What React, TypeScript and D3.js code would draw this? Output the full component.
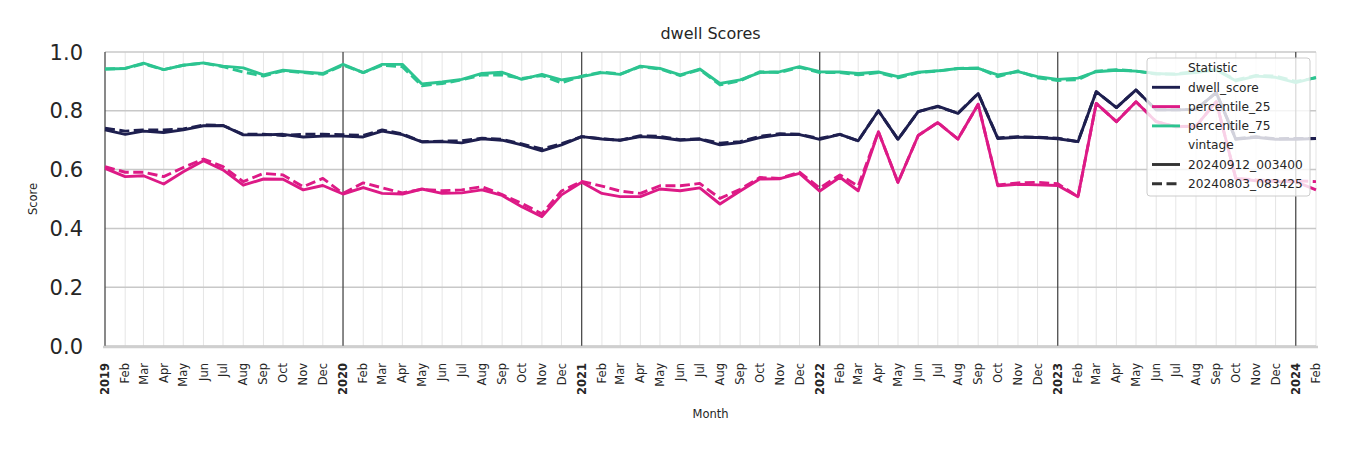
import React from 'react'
import * as d3 from 'd3'

// monthly points, Jan 2019 .. Feb 2024
const START = new Date(2019, 0, 1)
const END = new Date(2024, 1, 1)

const dwellNew = [
  0.735, 0.72, 0.731, 0.726, 0.735, 0.749, 0.75, 0.718, 0.718, 0.72, 0.711, 0.714,
  0.714, 0.711, 0.731, 0.719, 0.694, 0.695, 0.691, 0.705, 0.7, 0.684, 0.664, 0.684,
  0.712, 0.704, 0.7, 0.712, 0.709, 0.7, 0.704, 0.684, 0.692, 0.709, 0.719, 0.719,
  0.703, 0.72, 0.698, 0.8, 0.703, 0.797, 0.816, 0.791, 0.859, 0.706, 0.71, 0.709,
  0.705, 0.695, 0.865, 0.811, 0.871, 0.803, 0.803, 0.805, 0.862, 0.703, 0.71, 0.703,
  0.703, 0.706
]
const dwellOld = [
  0.741, 0.731, 0.735, 0.735, 0.738, 0.752, 0.75, 0.72, 0.72, 0.716, 0.72, 0.72,
  0.719, 0.716, 0.735, 0.721, 0.695, 0.697, 0.698, 0.707, 0.703, 0.687, 0.67, 0.688,
  0.712, 0.705, 0.7, 0.715, 0.713, 0.702, 0.704, 0.69, 0.695, 0.713, 0.722, 0.72,
  0.706, 0.72, 0.698, 0.8, 0.703, 0.797, 0.814, 0.792, 0.859, 0.708, 0.712, 0.71,
  0.707, 0.695, 0.865, 0.811, 0.871, 0.803, 0.803, 0.805, 0.862, 0.705, 0.712, 0.705,
  0.706, 0.706
]
const p25New = [
  0.604, 0.576, 0.579, 0.551, 0.593, 0.63, 0.599, 0.547, 0.568, 0.567, 0.531, 0.546,
  0.517, 0.539, 0.519, 0.517, 0.534, 0.519, 0.521, 0.531, 0.512, 0.474, 0.44, 0.514,
  0.557, 0.519, 0.508, 0.508, 0.534, 0.528, 0.538, 0.483, 0.527, 0.568, 0.569, 0.587,
  0.527, 0.574, 0.528, 0.729, 0.556, 0.716, 0.76, 0.704, 0.822, 0.545, 0.55, 0.548,
  0.546, 0.508, 0.825, 0.763, 0.831, 0.763, 0.746, 0.748, 0.831, 0.57, 0.562, 0.559,
  0.559, 0.531
]
const p25Old = [
  0.61, 0.591, 0.591, 0.576, 0.607, 0.636, 0.61, 0.559, 0.587, 0.582, 0.542, 0.57,
  0.519, 0.555, 0.538, 0.521, 0.533, 0.528, 0.531, 0.542, 0.515, 0.485, 0.45, 0.527,
  0.56, 0.544, 0.527, 0.519, 0.545, 0.545, 0.553, 0.502, 0.533, 0.573, 0.57, 0.591,
  0.537, 0.582, 0.544, 0.729, 0.556, 0.716, 0.76, 0.704, 0.822, 0.548, 0.555, 0.557,
  0.552, 0.508, 0.825, 0.763, 0.831, 0.763, 0.746, 0.748, 0.831, 0.57, 0.565, 0.562,
  0.562, 0.559
]
const p75New = [
  0.942, 0.944, 0.962, 0.94, 0.955, 0.963, 0.952, 0.946, 0.922, 0.938, 0.932, 0.927,
  0.958, 0.93, 0.958, 0.958, 0.891, 0.898, 0.907, 0.927, 0.931, 0.907, 0.924, 0.905,
  0.916, 0.93, 0.924, 0.952, 0.944, 0.922, 0.942, 0.893, 0.905, 0.93, 0.933, 0.95,
  0.933, 0.932, 0.927, 0.932, 0.916, 0.931, 0.936, 0.944, 0.944, 0.922, 0.933, 0.916,
  0.907, 0.911, 0.933, 0.938, 0.935, 0.927, 0.924, 0.93, 0.939, 0.902, 0.918, 0.914,
  0.896, 0.914
]
const p75Old = [
  0.942, 0.944, 0.96, 0.94, 0.955, 0.962, 0.95, 0.932, 0.918, 0.936, 0.93, 0.924,
  0.955, 0.93, 0.955, 0.95, 0.885, 0.893, 0.905, 0.922, 0.922, 0.91, 0.92, 0.895,
  0.918, 0.932, 0.925, 0.95, 0.942, 0.92, 0.94, 0.888, 0.902, 0.933, 0.93, 0.948,
  0.93, 0.93, 0.922, 0.93, 0.912, 0.93, 0.935, 0.944, 0.946, 0.916, 0.936, 0.912,
  0.903, 0.906, 0.935, 0.94, 0.935, 0.925, 0.925, 0.935, 0.94, 0.905, 0.92, 0.918,
  0.9, 0.912
]

const statistics = ['dwell_score', 'percentile_25', 'percentile_75']
const vintages = ['20240912_003400', '20240803_083425']
const colors = ['#1e1f4f', '#dd1a86', '#2cc490']
const yTicks = [0, 0.2, 0.4, 0.6, 0.8, 1.0]

const seriesData = [
  [dwellNew, dwellOld],
  [p25New, p25Old],
  [p75New, p75Old]
]

const W = 1350
const H = 450
const margin = { top: 52, right: 34, bottom: 104, left: 105 }
const font = '"DejaVu Sans", sans-serif'
const DASH = '10,4.5'
const LW = 2.9

export default function App() {
  const months = d3.timeMonth.range(START, d3.timeMonth.offset(END, 1))

  const x = d3.scaleTime()
    .domain([START, END])
    .range([margin.left, W - margin.right])

  const y = d3.scaleLinear()
    .domain([0, 1])
    .range([H - margin.bottom, margin.top])

  const line = d3.line<number>()
    .x((d, i) => x(months[i]))
    .y(d => y(d))

  const fmtMonth = d3.timeFormat('%b')
  const fmtYear = d3.timeFormat('%Y')

  const x0 = x.range()[0]
  const x1 = x.range()[1]
  const yb = y(0)
  const yt = y(1)

  const legendRows = [
    { label: 'Statistic' },
    ...statistics.map((s, i) => ({ label: s, color: colors[i], dash: null })),
    { label: 'vintage' },
    { label: vintages[0], color: '#333333', dash: null },
    { label: vintages[1], color: '#333333', dash: DASH }
  ]

  return (
    <div style={{ position: 'absolute', left: 0, top: 0 }}>
      <svg width={W} height={H} style={{ display: 'block', fontFamily: font }}>
        <rect width={W} height={H} fill="#ffffff" />

        {/* month grid */}
        {months.map((m, i) =>
          <line key={'vg' + i} x1={x(m)} x2={x(m)} y1={yt} y2={yb}
            stroke="#dedede" strokeWidth={0.8} />
        )}
        {/* value grid */}
        {yTicks.map(t =>
          <line key={'hg' + t} x1={x0} x2={x1} y1={y(t)} y2={y(t)}
            stroke="#c8c8c8" strokeWidth={1.5} />
        )}
        {/* year boundaries */}
        {months.filter(m => m.getMonth() === 0).map((m, i) =>
          <line key={'yl' + i} x1={x(m)} x2={x(m)} y1={yt} y2={yb}
            stroke="#333333" strokeWidth={1.1} />
        )}
        <line x1={x0 - 2} x2={x1 + 2} y1={yb + 1} y2={yb + 1} stroke="#cfcfcf" strokeWidth={2.5} />

        {/* series */}
        {seriesData.map((pair, si) =>
          pair.map((vals, vi) =>
            <path key={'s' + si + vi} d={line(vals) || ''} fill="none"
              stroke={colors[si]} strokeWidth={LW}
              strokeDasharray={vi === 1 ? DASH : undefined}
              strokeLinejoin="round" />
          )
        )}

        {/* y axis labels */}
        {yTicks.map(t =>
          <text key={'yt' + t} x={83} y={y(t)} dy="0.36em" textAnchor="end"
            fontSize={21} fill="#262626">{t.toFixed(1)}</text>
        )}
        <text transform={`translate(37,${(yt + yb) / 2}) rotate(-90)`} textAnchor="middle"
          fontSize={11.5} fill="#262626">Score</text>

        {/* x axis labels */}
        {months.map((m, i) => {
          const isYear = m.getMonth() === 0
          return (
            <text key={'xt' + i} transform={`translate(${x(m)},363) rotate(-90)`}
              textAnchor="end" dy="0.35em" fontSize={11.5}
              fontWeight={isYear ? 'bold' : 'normal'} fill="#262626">
              {isYear ? fmtYear(m) : fmtMonth(m)}
            </text>
          )
        })}
        <text x={(x0 + x1) / 2} y={418} textAnchor="middle" fontSize={11.5} fill="#262626">Month</text>

        <text x={(x0 + x1) / 2} y={39} textAnchor="middle" fontSize={16} fill="#262626">dwell Scores</text>

        {/* legend */}
        <g transform="translate(1147,58)">
          <rect width={163} height={138} rx={3} fill="#ffffff" fillOpacity={0.8}
            stroke="#cccccc" strokeWidth={1} />
          {legendRows.map((r, i) => {
            const cy = 10 + i * 19.3
            return (
              <g key={'lg' + i}>
                {r.color &&
                  <line x1={5} x2={33} y1={cy} y2={cy} stroke={r.color} strokeWidth={LW}
                    strokeDasharray={r.dash || undefined} />}
                <text x={41} y={cy} dy="0.35em" fontSize={12.2} fill="#262626">{r.label}</text>
              </g>
            )
          })}
        </g>
      </svg>
    </div>
  )
}
